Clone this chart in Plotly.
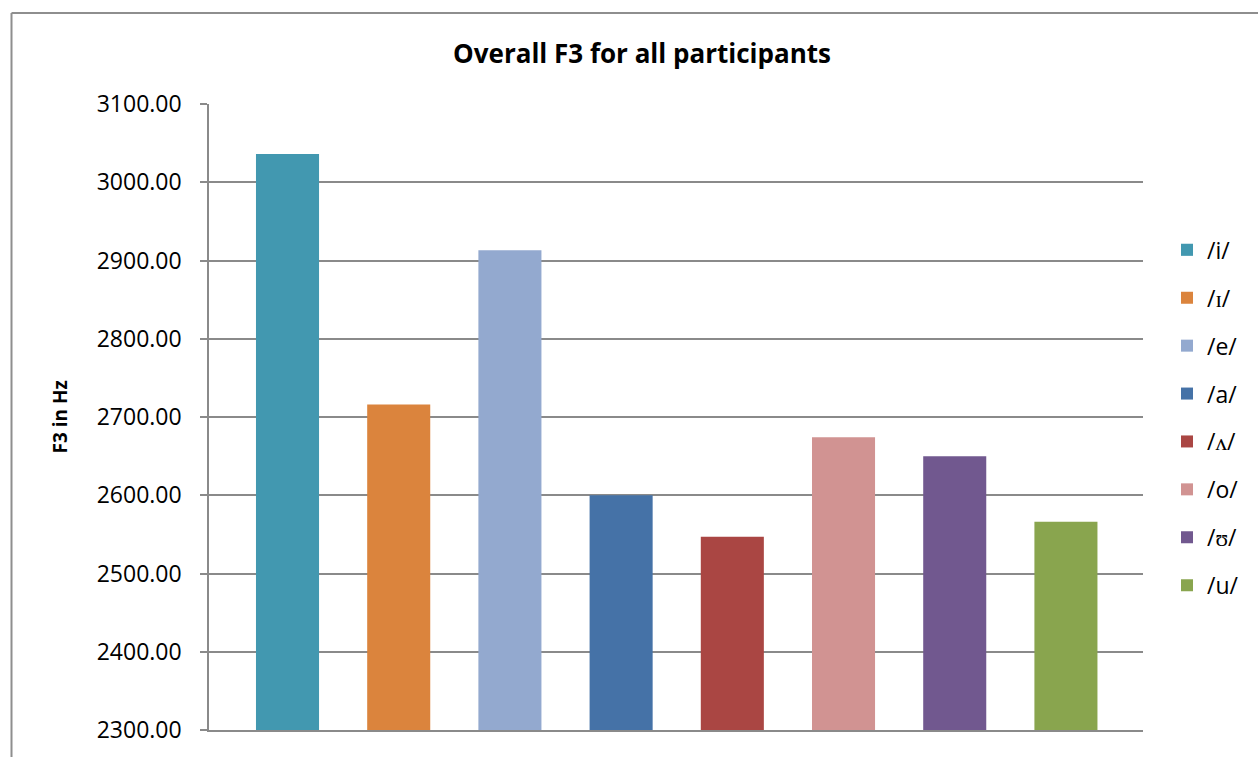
import plotly.graph_objects as go

# Mean third formant per vowel (Hz)
vowels = ["/i/", "/ɪ/", "/e/", "/a/", "/ʌ/", "/o/", "/ʊ/", "/u/"]
f3_values = [3036, 2716, 2913, 2600, 2547, 2674, 2650, 2566]
colors = ["#4298B0", "#DB843D", "#93A9CF", "#4572A7",
          "#AA4643", "#D19392", "#71588F", "#89A54E"]

y_ticks = [2300, 2400, 2500, 2600, 2700, 2800, 2900, 3000, 3100]

FONT = "Open Sans"
W, H = 1258, 757
L, R, T, B = 209, 115, 104, 24
PW, PH = W - L - R, H - T - B


def px_x(px):
    return (px - L) / PW


def px_y(py):
    return (H - B - py) / PH


fig = go.Figure()
for v, val, c in zip(vowels, f3_values, colors):
    fig.add_trace(go.Bar(
        x=[v], y=[val], name=v, marker=dict(color=c, line=dict(width=0)),
        width=0.567, legendgroup=v,
    ))

grid = "#8A8A8A"
fig.update_layout(
    width=W, height=H,
    margin=dict(l=L, r=R, t=T, b=B, pad=0),
    paper_bgcolor="white", plot_bgcolor="white",
    barmode="overlay",
    font=dict(family=FONT, color="black"),
    title=dict(
        text="<b>Overall F3 for all participants</b>",
        x=642 / W, xanchor="center", y=1 - 54 / H, yanchor="middle",
        font=dict(size=26, family=FONT, color="black"),
    ),
    xaxis=dict(
        range=[-0.706, 7.693], showticklabels=False, ticks="",
        showgrid=False, showline=True, linecolor=grid, linewidth=1.5,
        zeroline=False, fixedrange=True,
    ),
    yaxis=dict(
        range=[2300, 3100], tickvals=y_ticks, tickformat=".2f",
        showgrid=True, gridcolor=grid, gridwidth=1.5,
        showline=True, linecolor=grid, linewidth=1.5,
        ticks="outside", ticklen=7, tickcolor=grid, tickwidth=1.5,
        ticklabelstandoff=14,
        tickfont=dict(size=23, family=FONT, color="black"),
        zeroline=False,
    ),
    legend=dict(
        x=px_x(1167), xanchor="left", y=px_y(229), yanchor="top",
        font=dict(size=23, family=FONT, color="black"),
        tracegroupgap=15, bgcolor="rgba(0,0,0,0)", borderwidth=0,
        traceorder="grouped",
    ),
    showlegend=True,
    annotations=[dict(
        text="<b>F3 in Hz</b>", textangle=-90,
        xref="paper", yref="paper", x=px_x(60), y=px_y(419),
        xanchor="center", yanchor="middle", showarrow=False,
        font=dict(size=19, family=FONT, color="black"),
    )],
    shapes=[
        dict(type="line", xref="paper", yref="paper",
             x0=px_x(11.5), x1=px_x(11.5), y0=px_y(12.5), y1=px_y(800),
             line=dict(color="#8E8E8E", width=2)),
        dict(type="line", xref="paper", yref="paper",
             x0=px_x(11.5), x1=px_x(1300), y0=px_y(12.5), y1=px_y(12.5),
             line=dict(color="#8E8E8E", width=2)),
    ],
)

fig.write_html("out.html")
